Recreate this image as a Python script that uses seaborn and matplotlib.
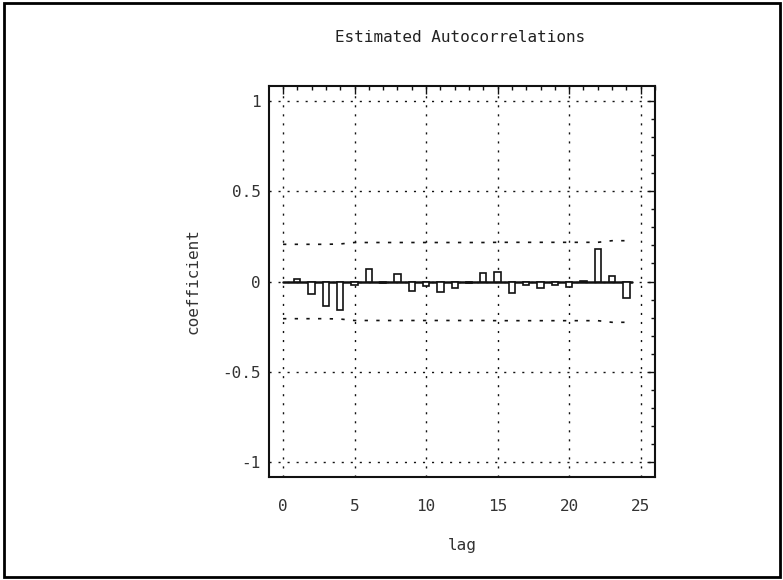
import matplotlib
matplotlib.use("Agg")
import matplotlib.pyplot as plt
from matplotlib.patches import Rectangle
from matplotlib.ticker import MultipleLocator
import seaborn as sns

# Sample autocorrelations by lag
lags = list(range(1, 25))
acf = [0.013, -0.072, -0.138, -0.160, -0.017, 0.070, -0.010, 0.040,
       -0.053, -0.024, -0.060, -0.035, -0.010, 0.048, 0.054, -0.065,
       -0.019, -0.035, -0.020, -0.032, 0.003, 0.180, 0.033, -0.092]

# 95% probability limits (lags 0..24)
limit_lags = list(range(0, 25))
limits = [0.206, 0.206, 0.206, 0.206, 0.208, 0.216, 0.216, 0.216, 0.216,
          0.216, 0.216, 0.216, 0.216, 0.216, 0.216, 0.217, 0.217, 0.217,
          0.217, 0.217, 0.217, 0.217, 0.217, 0.226, 0.226]

x_ticks = [0, 5, 10, 15, 20, 25]
y_ticks = [-1, -0.5, 0, 0.5, 1]
y_tick_labels = ["-1", "-0.5", "0", "0.5", "1"]

sns.set_style("white")
plt.rcParams["font.family"] = ["DejaVu Sans Mono", "DejaVu Sans"]
plt.rcParams["axes.unicode_minus"] = False

fig = plt.figure(figsize=(7.83, 5.80), dpi=100)
ax = fig.add_axes([269 / 783, 1 - 477 / 580, (655 - 269) / 783, (477 - 86) / 580])

ink = "#111111"
grid_style = dict(color=ink, linewidth=1.0, linestyle=(0, (1.5, 5)), zorder=1)
for xv in x_ticks:
    ax.axvline(xv, **grid_style)
for yv in y_ticks:
    ax.axhline(yv, **grid_style)

# Probability limits
ax.plot(limit_lags, limits, color=ink, linewidth=1.2, linestyle=(0, (2, 5)), zorder=2)
ax.plot(limit_lags, [-v for v in limits], color=ink, linewidth=1.2,
        linestyle=(0, (2, 5)), zorder=2)

# Zero reference line
ax.plot([0, 24.4], [0, 0], color=ink, linewidth=1.8, zorder=3)

sns.barplot(x=lags, y=acf, native_scale=True, width=0.44, color="white",
            edgecolor=ink, linewidth=1.2, saturation=1, errorbar=None,
            ax=ax, zorder=4)

ax.set_xlim(-0.98, 26.0)
ax.set_ylim(-1.083, 1.083)
ax.set_xticks(x_ticks)
ax.set_xticklabels([str(v) for v in x_ticks])
ax.set_yticks(y_ticks)
ax.set_yticklabels(y_tick_labels)
ax.xaxis.set_minor_locator(MultipleLocator(1))
ax.yaxis.set_minor_locator(MultipleLocator(0.1))

ax.tick_params(which="both", direction="in", top=True, right=True,
               color=ink, width=1.0)
ax.tick_params(which="major", length=6)
ax.tick_params(which="minor", length=3)
ax.tick_params(axis="x", which="major", pad=16, labelsize=11.5, labelcolor="#333333")
ax.tick_params(axis="y", which="major", pad=6, labelsize=11.5, labelcolor="#333333")

for side in ax.spines.values():
    side.set_visible(True)
    side.set_color(ink)
    side.set_linewidth(1.5)

ax.set_xlabel("lag", fontsize=11.5, color="#333333")
ax.set_ylabel("coefficient", fontsize=11.5, color="#333333")
ax.xaxis.set_label_coords(0.5, -0.176)
ax.xaxis.label.set_va("center")
ax.yaxis.set_label_coords(-0.197, 0.5)
ax.yaxis.label.set_va("center")

ax.text(0.495, 1.125, "Estimated Autocorrelations", transform=ax.transAxes,
        ha="center", va="center", fontsize=11.5, color="#222222")

# Outer frame around the whole figure
fig.patches.append(Rectangle((4 / 783, 3 / 580), 776 / 783, 574 / 580,
                             transform=fig.transFigure, fill=False,
                             edgecolor="black", linewidth=2.0))

fig.savefig("out.png", dpi=100)
